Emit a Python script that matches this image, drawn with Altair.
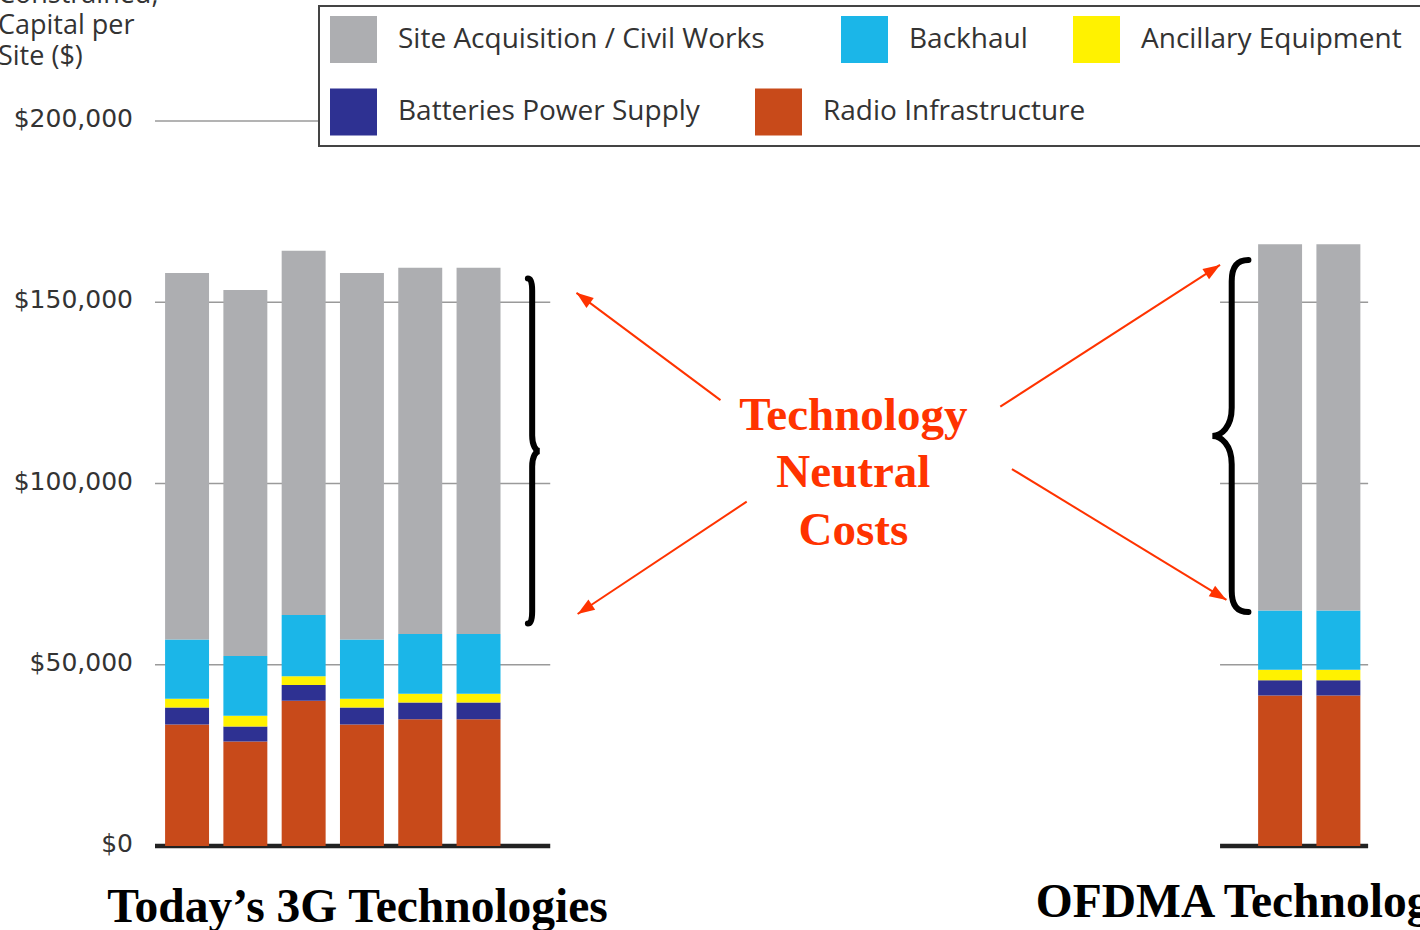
import math

import altair as alt
import pandas as pd

# ---------------------------------------------------------------------------
# Capital cost per site (US$), by cost component
# ---------------------------------------------------------------------------
bars = ["3G-1", "3G-2", "3G-3", "3G-4", "3G-5", "3G-6", "OFDMA-1", "OFDMA-2"]
bar_group = ["3G", "3G", "3G", "3G", "3G", "3G", "OFDMA", "OFDMA"]

radio_infrastructure = [33500, 28800, 40100, 33500, 35000, 35000, 41500, 41500]
batteries_power_supply = [4700, 4200, 4300, 4700, 4600, 4600, 4200, 4200]
ancillary_equipment = [2400, 2900, 2400, 2400, 2400, 2400, 2900, 2900]
backhaul = [16400, 16500, 16900, 16400, 16500, 16500, 16400, 16400]
site_acquisition = [101100, 101000, 100500, 101100, 101000, 101000, 101000, 101000]

legend_labels = [
    "Site Acquisition / Civil Works",
    "Backhaul",
    "Ancillary Equipment",
    "Batteries Power Supply",
    "Radio Infrastructure",
]
legend_colors = ["#ADAEB1", "#1BB6E8", "#FFF200", "#2E3192", "#C84A1A"]

y_ticks = [0, 50000, 100000, 150000, 200000]
axis_title = "Constrained,\nCapital per\nSite ($)"
group_titles = ["Today\u2019s 3G Technologies", "OFDMA Technologies"]
callout_text = "Technology\nNeutral\nCosts"

# ---------------------------------------------------------------------------
# Layout (x is measured in bar slots, y in dollars)
# ---------------------------------------------------------------------------
W, H = 1265, 846
PLOT_LEFT = 155
X_DOMAIN = [-0.55, 21.15]
Y_DOMAIN = [0, 233400]
PX_X = W / (X_DOMAIN[1] - X_DOMAIN[0])
PX_Y = H / (Y_DOMAIN[1] - Y_DOMAIN[0])
GROUP_START = {"3G": 0.0, "OFDMA": 18.75}
HALF_BAR = 0.377
LEFT_SPAN = (-0.55, 6.23)
RIGHT_SPAN = (17.72, 20.26)
RED = "#FF3300"
INK = "#333333"
SANS = "Open Sans"
SERIF = "Liberation Serif"


def ux(px):
    """Page x (pixels) -> slot units."""
    return X_DOMAIN[0] + (px - PLOT_LEFT) / PX_X


def uy(py):
    """Page y (pixels) -> dollars."""
    return (H - py) / PX_Y


slots, seen = [], {}
for g in bar_group:
    i = seen.get(g, 0)
    slots.append(GROUP_START[g] + i)
    seen[g] = i + 1

# stacked from the bottom up
stack_series = [
    ("Radio Infrastructure", radio_infrastructure),
    ("Batteries Power Supply", batteries_power_supply),
    ("Ancillary Equipment", ancillary_equipment),
    ("Backhaul", backhaul),
    ("Site Acquisition / Civil Works", site_acquisition),
]
rows = []
for order, (name, values) in enumerate(stack_series):
    for b, s, v in zip(bars, slots, values):
        rows.append({"bar": b, "slot": s, "component": name, "value": v, "order": order})
bar_df = pd.DataFrame(rows)

grid_rows = []
for t in y_ticks[1:]:
    grid_rows.append({"tick": t, "x0": LEFT_SPAN[0], "x1": LEFT_SPAN[1]})
    if t < 200000:
        grid_rows.append({"tick": t, "x0": RIGHT_SPAN[0], "x1": RIGHT_SPAN[1]})
grid_df = pd.DataFrame(grid_rows)
base_df = pd.DataFrame(
    [
        {"tick": 0, "x0": LEFT_SPAN[0], "x1": LEFT_SPAN[1]},
        {"tick": 0, "x0": RIGHT_SPAN[0], "x1": RIGHT_SPAN[1]},
    ]
)
tick_df = pd.DataFrame({"tick": y_ticks, "x": [ux(133)] * len(y_ticks)})
title_df = pd.DataFrame({"x": [ux(-2)], "y": [uy(3)], "text": [axis_title]})

# legend: two rows of swatches, laid out left to right
legend_pos_px = [(353.5, 39.5), (864.5, 39.5), (1096.5, 39.5), (353.5, 112.0), (778.5, 112.0)]
legend_df = pd.DataFrame(
    {
        "component": legend_labels,
        "sx": [ux(cx) for cx, _ in legend_pos_px],
        "lx": [ux(cx + 23.5 + 21) for cx, _ in legend_pos_px],
        "sy": [uy(cy) for _, cy in legend_pos_px],
    }
)
legend_box_df = pd.DataFrame({"x0": [ux(319)], "x1": [ux(1445)], "y0": [uy(6)], "y1": [uy(146)]})

# callout arrows: start near the text, tip at the brace
arrow_df = pd.DataFrame(
    {
        "x0": [9.15, 9.60, 13.95, 14.15],
        "y0": [123000, 95000, 121200, 104000],
        "x1": [6.68, 6.70, 17.72, 17.83],
        "y1": [152600, 64000, 160300, 67900],
    }
)
arrow_df["angle"] = [
    math.degrees(math.atan2((r.x1 - r.x0) * PX_X, (r.y1 - r.y0) * PX_Y)) % 360
    for r in arrow_df.itertuples()
]

callout_df = pd.DataFrame({"x": [11.43], "y": [114800], "text": [callout_text]})
titles_df = pd.DataFrame({"x": [-1.37, 14.56], "y": [-20970, -19590], "text": group_titles})
left_brace_df = pd.DataFrame({"x": [5.92], "y": [108980]})
right_brace_df = pd.DataFrame({"x": [17.92], "y": [113110]})

ARROW_HEAD = "M 0 0 L 0.36 1 L -0.36 1 Z"
RIGHT_CURLY = (
    "M -0.025 -1 C -0.005 -1 0 -0.97 0 -0.93 L 0 -0.09 C 0 -0.035 0.02 0 0.044 0 "
    "C 0.02 0 0 0.035 0 0.09 L 0 0.93 C 0 0.97 -0.005 1 -0.025 1"
)
LEFT_CURLY = (
    "M 0.095 -1 C 0.03 -1 0 -0.96 0 -0.88 L 0 -0.16 C 0 -0.05 -0.06 0 -0.11 0 "
    "C -0.06 0 0 0.05 0 0.16 L 0 0.88 C 0 0.96 0.03 1 0.095 1"
)

xs = alt.Scale(domain=X_DOMAIN, nice=False, zero=False)
ys = alt.Scale(domain=Y_DOMAIN, nice=False, zero=False)
cs = alt.Scale(domain=legend_labels, range=legend_colors)


def X(field):
    return alt.X(field, scale=xs, axis=None)


def Y(field):
    return alt.Y(field, scale=ys, axis=None)


grid = alt.Chart(grid_df).mark_rule(color="#9A9A9A", strokeWidth=1.5).encode(
    x=X("x0:Q"), x2="x1:Q", y=Y("tick:Q")
)

baseline = alt.Chart(base_df).mark_rule(color="#222222", strokeWidth=4.5).encode(
    x=X("x0:Q"), x2="x1:Q", y=Y("tick:Q")
)

tick_labels = (
    alt.Chart(tick_df)
    .transform_calculate(label="format(datum.tick, '$,.0f')")
    .mark_text(align="right", baseline="middle", dy=-2, font="DejaVu Sans", fontSize=25, color=INK)
    .encode(x=X("x:Q"), y=Y("tick:Q"), text="label:N")
)

y_title = alt.Chart(title_df).mark_text(
    align="left", baseline="alphabetic", lineBreak="\n", lineHeight=31,
    font=SANS, fontSize=27, color=INK,
).encode(x=X("x:Q"), y=Y("y:Q"), text="text:N")

stacked = (
    alt.Chart(bar_df)
    .transform_stack(
        stack="value",
        groupby=["bar"],
        as_=["v0", "v1"],
        sort=[alt.SortField("order", "ascending")],
    )
    .transform_calculate(xa=f"datum.slot - {HALF_BAR}", xb=f"datum.slot + {HALF_BAR}")
    .mark_bar()
    .encode(
        x=X("xa:Q"),
        x2="xb:Q",
        y=Y("v0:Q"),
        y2="v1:Q",
        color=alt.Color("component:N", scale=cs, legend=None),
    )
)

legend_box = alt.Chart(legend_box_df).mark_rect(
    fill="white", stroke="#444444", strokeWidth=2
).encode(x=X("x0:Q"), x2="x1:Q", y=Y("y0:Q"), y2="y1:Q")

legend_swatches = alt.Chart(legend_df).mark_square(size=47 * 47, opacity=1).encode(
    x=X("sx:Q"), y=Y("sy:Q"), color=alt.Color("component:N", scale=cs, legend=None)
)

legend_text = alt.Chart(legend_df).mark_text(
    align="left", baseline="middle", font=SANS, fontSize=28, color=INK
).encode(x=X("lx:Q"), y=Y("sy:Q"), text="component:N")

arrows = alt.Chart(arrow_df).mark_rule(color=RED, strokeWidth=2).encode(
    x=X("x0:Q"), x2="x1:Q", y=Y("y0:Q"), y2="y1:Q"
)

heads = alt.Chart(arrow_df).mark_point(
    shape=ARROW_HEAD, filled=True, color=RED, size=1156, opacity=1, strokeWidth=0
).encode(x=X("x1:Q"), y=Y("y1:Q"), angle=alt.Angle("angle:Q", scale=None))

left_brace = alt.Chart(left_brace_df).mark_point(
    shape=RIGHT_CURLY, filled=False, color="black", strokeWidth=6,
    strokeCap="round", size=345 * 345, opacity=1,
).encode(x=X("x:Q"), y=Y("y:Q"))

right_brace = alt.Chart(right_brace_df).mark_point(
    shape=LEFT_CURLY, filled=False, color="black", strokeWidth=6,
    strokeCap="round", size=352 * 352, opacity=1,
).encode(x=X("x:Q"), y=Y("y:Q"))

callout = alt.Chart(callout_df).mark_text(
    font=SERIF, fontWeight="bold", fontSize=47, color=RED,
    align="center", baseline="alphabetic", lineBreak="\n", lineHeight=57.5,
).encode(x=X("x:Q"), y=Y("y:Q"), text="text:N")

group_labels = alt.Chart(titles_df).mark_text(
    font=SERIF, fontWeight="bold", fontSize=47.5, color="black",
    align="left", baseline="alphabetic",
).encode(x=X("x:Q"), y=Y("y:Q"), text="text:N")

chart = (
    alt.layer(
        grid, baseline, stacked, legend_box, legend_swatches, legend_text,
        arrows, heads, left_brace, right_brace, callout, group_labels,
        tick_labels, y_title,
    )
    .properties(
        width=W,
        height=H,
        autosize=alt.AutoSizeParams(type="none"),
        padding={"left": PLOT_LEFT, "top": 0, "right": 0, "bottom": 84},
        background="white",
    )
    .configure_view(strokeWidth=0)
)

chart.save("out.html", embed_options={"renderer": "svg", "actions": False})
